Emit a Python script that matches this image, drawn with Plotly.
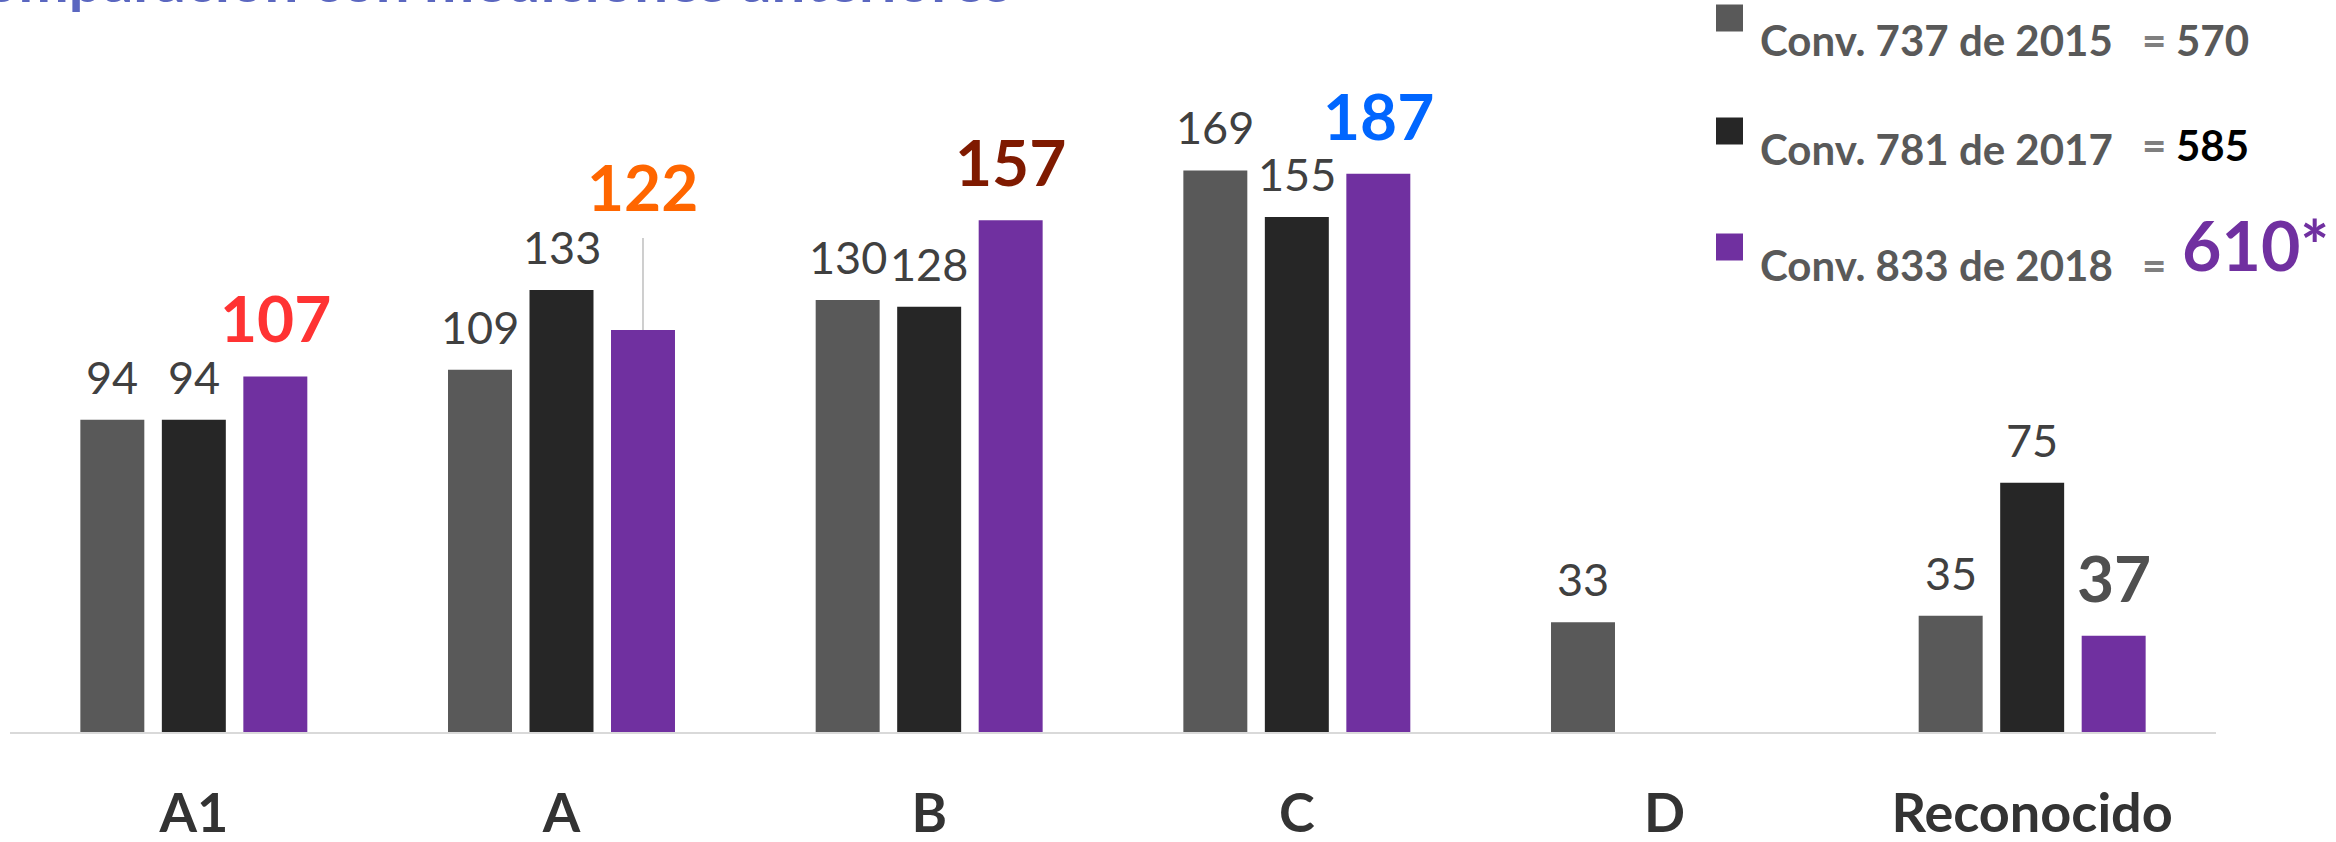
import plotly.graph_objects as go

# ── datos ─────────────────────────────────────────────────────────────
categorias = ["A1", "A", "B", "C", "D", "Reconocido"]
conv_2015 = [94, 109, 130, 169, 33, 35]
conv_2017 = [94, 133, 128, 155, None, 75]
# alturas de las barras moradas tal como aparecen dibujadas
conv_2018 = [107, 121, 154, 168, None, 29]
# etiquetas que muestra la figura sobre las barras moradas
etiquetas_2018 = ["107", "122", "157", "187", "", "37"]

series = ["Conv. 737 de 2015", "Conv. 781 de 2017", "Conv. 833 de 2018"]
totales = ["570", "585", "610*"]

# ── estilo ────────────────────────────────────────────────────────────
COLORES = ["#595959", "#262626", "#7030A0"]
COLOR_TOTALES = ["#595959", "#000000", "#7030A0"]
COLOR_ETIQ_2018 = ["#FF3333", "#FF6600", "#7F1A00", "#0066FF", "#505050", "#505050"]
FUENTE = "Lato, 'Open Sans', Arial"

W, H = 2336, 842
ML, MR, MT, MB = 10, 120, 100, 110
PW, PH = W - ML - MR, H - MT - MB
PX_POR_UNIDAD = 3.323
BARGAP, BARGROUPGAP = 0.335, 0.215
SLOT = PW / len(categorias) * (1 - BARGAP) / 3


def px_x(px):
    return (px - ML) / PW


def px_y(py):
    return (H - MB - py) / PH


fig = go.Figure()
for nombre, valores, color in zip(series, [conv_2015, conv_2017, conv_2018], COLORES):
    fig.add_trace(go.Bar(
        name=nombre, x=categorias, y=valores,
        marker_color=color, marker_line_width=0,
        hoverinfo="x+y",
    ))

anotaciones = []

# etiquetas normales (2015, 2017)
for j, valores in enumerate([conv_2015, conv_2017]):
    for cat, v in zip(categorias, valores):
        if v is None:
            continue
        anotaciones.append(dict(
            x=cat, y=v, xref="x", yref="y", text=str(v), showarrow=False,
            xshift=(j - 1) * SLOT, yanchor="bottom", yshift=14,
            font=dict(family=FUENTE, size=45, color="#404040"),
        ))

# etiquetas destacadas (2018)
for i, (cat, v, txt) in enumerate(zip(categorias, conv_2018, etiquetas_2018)):
    if v is None or not txt:
        continue
    a = dict(
        x=cat, y=v, xref="x", yref="y", text=f"<b>{txt}</b>",
        xshift=SLOT, font=dict(family=FUENTE, size=64, color=COLOR_ETIQ_2018[i]),
    )
    if cat == "A":
        # etiqueta elevada con línea guía
        a.update(showarrow=True, arrowhead=0, arrowwidth=1.5, arrowcolor="#BFBFBF",
                 ax=0, ay=-143, standoff=0, startstandoff=11)
    else:
        a.update(showarrow=False, yanchor="bottom", yshift=18)
    anotaciones.append(a)

# leyenda personalizada
filas_cuadro = [18, 131, 247]
filas_texto = [40, 149, 265]
formas = []
for k in range(3):
    formas.append(dict(
        type="rect", xref="paper", yref="paper",
        x0=px_x(1716), x1=px_x(1743),
        y0=px_y(filas_cuadro[k] + 13.5), y1=px_y(filas_cuadro[k] - 13.5),
        fillcolor=COLORES[k], line_width=0,
    ))
    anotaciones.append(dict(
        x=px_x(1758), y=px_y(filas_texto[k]), xref="paper", yref="paper",
        xanchor="left", yanchor="middle", showarrow=False,
        text=f"<b>{series[k]}</b>",
        font=dict(family=FUENTE, size=42, color="#595959"),
    ))
    fila_val = filas_texto[k] - (4 if k == 1 else 0)
    anotaciones.append(dict(
        x=px_x(2140), y=px_y(fila_val), xref="paper", yref="paper",
        xanchor="left", yanchor="middle", showarrow=False,
        text="<b>=</b>",
        font=dict(family=FUENTE, size=42, color="#7F7F7F"),
    ))
    grande = k == 2
    anotaciones.append(dict(
        x=px_x(2180 if grande else 2174),
        y=px_y(244 if grande else fila_val),
        xref="paper", yref="paper",
        xanchor="left", yanchor="middle", showarrow=False,
        text=f"<b>{totales[k]}</b>",
        font=dict(family=FUENTE, size=68 if grande else 42, color=COLOR_TOTALES[k]),
    ))

# título (recortado en el borde superior, como en la imagen)
anotaciones.append(dict(
    x=px_x(1013), y=px_y(17), xref="paper", yref="paper",
    xanchor="right", yanchor="bottom", showarrow=False,
    text="<b>Comparación con mediciones anteriores</b>",
    font=dict(family=FUENTE, size=60, color="#5B67C0"),
))

fig.update_layout(
    width=W, height=H,
    margin=dict(l=ML, r=MR, t=MT, b=MB, autoexpand=False),
    barmode="group", bargap=BARGAP, bargroupgap=BARGROUPGAP,
    plot_bgcolor="white", paper_bgcolor="white",
    showlegend=False,
    annotations=anotaciones,
    shapes=formas,
    font=dict(family=FUENTE),
)
fig.update_xaxes(
    showline=True, linecolor="#D9D9D9", linewidth=2,
    showgrid=False, ticks="", ticklabelstandoff=33, automargin=False,
    tickfont=dict(family=FUENTE, size=54, color="#333333", weight="bold"),
)
fig.update_yaxes(visible=False, range=[0, PH / PX_POR_UNIDAD], showgrid=False,
                 automargin=False)

fig.write_html("out.html", config={"displayModeBar": False},
               post_script="document.body.style.margin = '0';")
